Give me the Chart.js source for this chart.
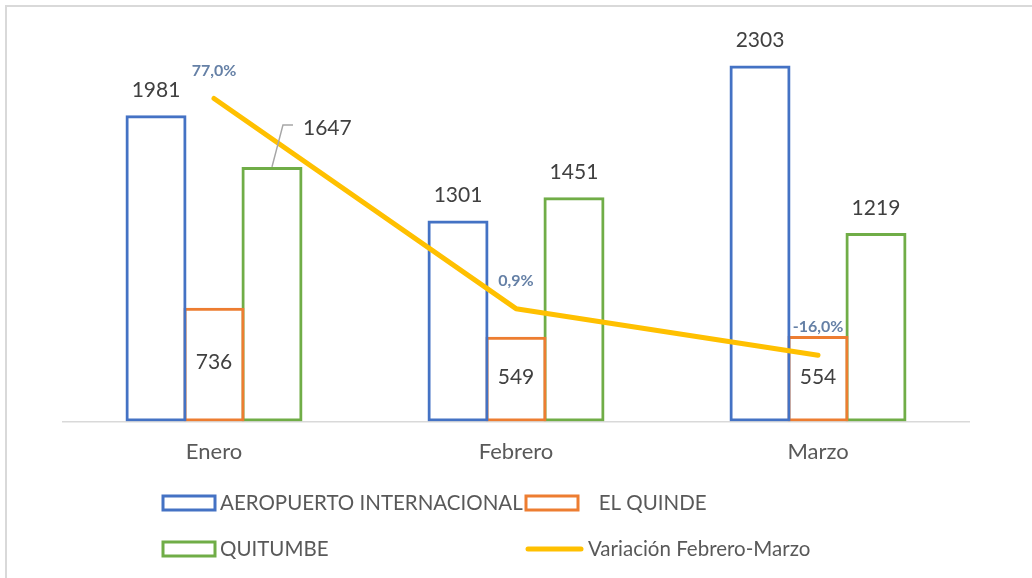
<!DOCTYPE html>
<html>
<head>
<meta charset="utf-8">
<script src="https://cdn.jsdelivr.net/npm/chart.js@4.4.1/dist/chart.umd.min.js"></script>
<style>
    html, body { margin: 0; padding: 0; background: #fff; overflow: hidden; }
    #wrap { position: relative; width: 1032px; height: 578px; }
    #frame { position: absolute; left: 5px; top: 5px; width: 1040px; height: 590px; border: 2px solid #d9d9d9; box-sizing: border-box; }
    canvas { position: absolute; left: 0; top: 0; }
</style>
</head>
<body>
<div id="wrap">
    <div id="frame"></div>
    <canvas id="myChart" width="1032" height="578"></canvas>
</div>
<script>
var meses = ['Enero', 'Febrero', 'Marzo'];
var aeropuerto = [1981, 1301, 2303];
var quinde = [736, 549, 554];
var quitumbe = [1647, 1451, 1219];
var variacion = [77.0, 0.9, -16.0];

var FONT = 'Lato, "Noto Sans", sans-serif';

function pct(v) {
    return v.toFixed(1).replace('.', ',') + '%';
}

// etiquetas de datos
var labelPlugin = {
    id: 'etiquetas',
    afterDatasetsDraw: function (chart) {
        var ctx = chart.ctx;
        ctx.save();
        ctx.textAlign = 'center';
        ctx.textBaseline = 'middle';
        chart.data.datasets.forEach(function (ds, i) {
            var meta = chart.getDatasetMeta(i);
            meta.data.forEach(function (el, j) {
                var v = ds.data[j];
                if (ds.type === 'line') {
                    ctx.font = 'bold 16px ' + FONT;
                    ctx.fillStyle = '#6580a6';
                    ctx.fillText(pct(v), el.x, el.y - 28);
                    return;
                }
                ctx.font = '21px ' + FONT;
                ctx.fillStyle = '#404040';
                if (i === 1) {
                    ctx.fillText(v, el.x, (el.y + el.base) / 2 - 2);
                } else if (i === 2 && j === 0) {
                    // etiqueta desplazada con linea guia
                    ctx.strokeStyle = '#a6a6a6';
                    ctx.lineWidth = 1.5;
                    ctx.beginPath();
                    ctx.moveTo(el.x, el.y);
                    ctx.lineTo(el.x + 11, el.y - 42);
                    ctx.lineTo(el.x + 21, el.y - 42);
                    ctx.stroke();
                    ctx.textAlign = 'left';
                    ctx.fillText(v, el.x + 31, el.y - 39);
                    ctx.textAlign = 'center';
                } else {
                    ctx.fillText(v, el.x, el.y - 25);
                }
            });
        });
        ctx.restore();
    }
};

// leyenda en dos columnas
var legendPlugin = {
    id: 'leyenda',
    afterDraw: function (chart) {
        var ctx = chart.ctx;
        var cols = [163, 526];
        var rows = [503, 549];
        ctx.save();
        ctx.font = '20.5px ' + FONT;
        ctx.textBaseline = 'middle';
        ctx.textAlign = 'left';
        chart.data.datasets.forEach(function (ds, i) {
            var x = cols[i % 2];
            var y = rows[Math.floor(i / 2)];
            if (ds.type === 'line') {
                ctx.strokeStyle = ds.borderColor;
                ctx.lineWidth = 5;
                ctx.lineCap = 'round';
                ctx.beginPath();
                ctx.moveTo(x + 2, y);
                ctx.lineTo(x + 55, y);
                ctx.stroke();
                ctx.fillStyle = '#595959';
                ctx.fillText(ds.label, x + 62, y);
            } else {
                ctx.strokeStyle = ds.borderColor;
                ctx.lineWidth = 3;
                ctx.strokeRect(x, y - 7, 52, 14);
                ctx.fillStyle = '#595959';
                ctx.fillText(ds.label, x + 57, y);
            }
        });
        ctx.restore();
    }
};

var ctx = document.getElementById('myChart');
var myChart = new Chart(ctx, {
    type: 'bar',
    data: {
        labels: meses,
        datasets: [{
            label: 'AEROPUERTO INTERNACIONAL',
            data: aeropuerto,
            backgroundColor: 'rgba(0,0,0,0)',
            borderColor: '#4472C4',
            borderWidth: 3,
            borderSkipped: false,
            order: 1
        }, {
            label: '   EL QUINDE',
            data: quinde,
            backgroundColor: 'rgba(0,0,0,0)',
            borderColor: '#ED7D31',
            borderWidth: 3,
            borderSkipped: false,
            order: 1
        }, {
            label: 'QUITUMBE',
            data: quitumbe,
            backgroundColor: 'rgba(0,0,0,0)',
            borderColor: '#70AD47',
            borderWidth: 3,
            borderSkipped: false,
            order: 1
        }, {
            type: 'line',
            label: 'Variación Febrero-Marzo',
            data: variacion,
            yAxisID: 'y2',
            borderColor: '#FFC000',
            borderWidth: 5,
            borderCapStyle: 'round',
            borderJoinStyle: 'round',
            pointRadius: 0,
            tension: 0,
            order: 0
        }]
    },
    options: {
        responsive: false,
        animation: false,
        events: [],
        layout: {
            padding: { left: 63, right: 63, top: 35, bottom: 96 }
        },
        datasets: {
            bar: { categoryPercentage: 0.576, barPercentage: 1.052 }
        },
        plugins: {
            legend: { display: false },
            tooltip: { enabled: false }
        },
        scales: {
            x: {
                grid: { display: false, drawTicks: false },
                border: { display: true, color: '#d9d9d9', width: 1.5 },
                ticks: { color: '#595959', padding: 17, font: { family: FONT, size: 22 } }
            },
            y: {
                display: false,
                min: 0,
                max: 2500
            },
            y2: {
                display: false,
                position: 'right',
                min: -40,
                max: 100
            }
        }
    },
    plugins: [labelPlugin, legendPlugin]
});
</script>
</body>
</html>
